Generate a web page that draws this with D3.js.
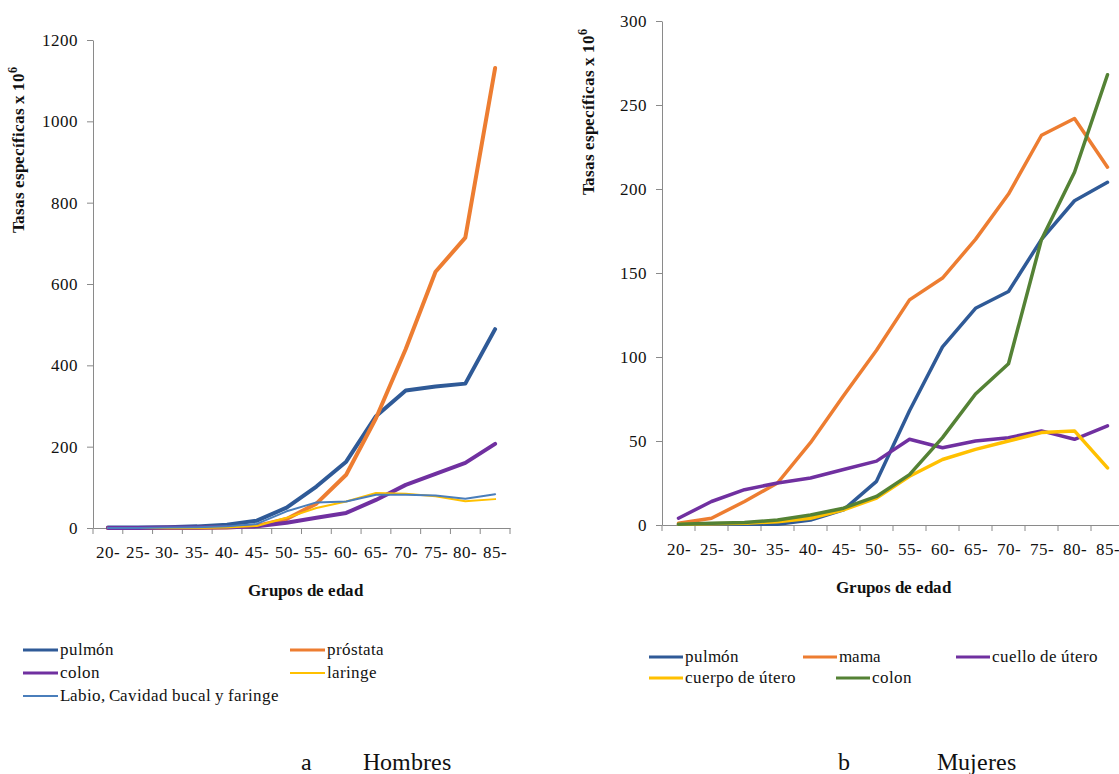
<!DOCTYPE html>
<html><head><meta charset="utf-8">
<script src="https://cdn.jsdelivr.net/npm/d3@7"></script>
<style>
@font-face{font-family:"RefSerif";font-weight:400;
  src:local("Liberation Serif"),local("LiberationSerif"),local("LiberationSerif-Regular"),local("Liberation Serif Regular"),local("DejaVu Serif"),local("DejaVuSerif"),local("Noto Serif"),local("NotoSerif-Regular");}
@font-face{font-family:"RefSerif";font-weight:700;
  src:local("Liberation Serif Bold"),local("LiberationSerif-Bold"),local("DejaVu Serif Bold"),local("DejaVuSerif-Bold"),local("Noto Serif Bold"),local("NotoSerif-Bold");}
body{margin:0;background:#fff;}
svg text{font-family:"RefSerif","Liberation Serif","DejaVu Serif",serif;}
</style></head>
<body>
<svg id="c" width="1119" height="774"></svg>
<script>
// ---------- data ----------
const ageGroups = ["20-","25-","30-","35-","40-","45-","50-","55-","60-","65-","70-","75-","80-","85-"];

// Hombres
const menPulmon   = [1,1,2,4,8,18,50,102,163,275,338,348,355,489];
const menProstata = [0,0,0,0,1,5,22,60,131,270,440,630,714,1131];
const menColon    = [0,0,1,1,2,4,13,25,37,69,106,133,160,207];
const menLaringe  = [0,0,0,0,1,5,25,49,65,86,84,78,66,71];
const menLabio    = [0,0,1,2,4,10,41,63,65,82,82,80,72,83];
const menTicks    = [0,200,400,600,800,1000,1200];

// Mujeres
const womPulmon  = [0.5,0.5,0.5,0.5,3,9,26,68,106,129,139,170,193,204];
const womMama    = [1,4,14,25,49,77,104,134,147,170,197,232,242,213];
const womCuello  = [4,14,21,25,28,33,38,51,46,50,52,56,51,59];
const womCuerpo  = [0.5,0.8,1,2,4,9,16,29,39,45,50,55,56,34];
const womColon   = [0.5,1,1.5,3,6,10,17,30,52,78,96,170,210,268];
const womTicks   = [0,50,100,150,200,250,300];

const FONT = '"RefSerif","Liberation Serif","DejaVu Serif",serif';
const C = {blue:"#2f5a97", orange:"#ed7d31", purple:"#7030a0", yellow:"#ffc000", green:"#548235", steel:"#4a7ebb"};

const menSeries = [
  {name:"pulmón", values:menPulmon, color:C.blue, w:4},
  {name:"próstata", values:menProstata, color:C.orange, w:4},
  {name:"colon", values:menColon, color:C.purple, w:4},
  {name:"laringe", values:menLaringe, color:C.yellow, w:2},
  {name:"Labio, Cavidad bucal y faringe", values:menLabio, color:C.steel, w:2}
];
const womSeries = [
  {name:"pulmón", values:womPulmon, color:C.blue, w:3.5},
  {name:"mama", values:womMama, color:C.orange, w:3.5},
  {name:"cuello de útero", values:womCuello, color:C.purple, w:3.5},
  {name:"cuerpo de útero", values:womCuerpo, color:C.yellow, w:3.5},
  {name:"colon", values:womColon, color:C.green, w:3.5}
];

const svg = d3.select("#c");
svg.append("rect").attr("width",1119).attr("height",774).attr("fill","#fff");

function panel(cfg){
  const g = svg.append("g").attr("font-family",FONT);
  const x = d3.scaleBand().domain(ageGroups).range([cfg.x0, cfg.x1]);
  const y = d3.scaleLinear().domain([0, cfg.ymax]).range([cfg.y0, cfg.y1]);
  const cx = d => x(d) + x.bandwidth()/2;

  const ya = g.append("g").attr("transform",`translate(${cfg.x0},0)`)
    .call(d3.axisLeft(y).tickValues(cfg.ticks).tickFormat(d3.format("d")).tickSize(6).tickSizeOuter(0).tickPadding(9));
  ya.attr("font-family",FONT);
  ya.select(".domain").attr("stroke","#8a8a8a");
  ya.selectAll(".tick line").attr("stroke","#8a8a8a");
  ya.selectAll(".tick text").attr("font-size",cfg.fs).attr("fill","#111");

  const xa = g.append("g").attr("transform",`translate(0,${cfg.y0})`)
    .call(d3.axisBottom(x).tickSize(0).tickPadding(cfg.xpad));
  xa.attr("font-family",FONT);
  xa.select(".domain").attr("stroke","#8a8a8a");
  xa.selectAll(".tick text").attr("font-size",cfg.fs).attr("fill","#111");
  const bounds = ageGroups.map(d => x(d)).concat([x(ageGroups[ageGroups.length-1]) + x.bandwidth()]);
  xa.selectAll("line.bt").data(bounds).enter().append("line")
    .attr("x1",d=>d).attr("x2",d=>d).attr("y1",0).attr("y2",6).attr("stroke","#8a8a8a");

  const line = d3.line().x((v,i)=>cx(ageGroups[i])).y(v=>y(v));
  cfg.series.forEach(s=>{
    g.append("path").attr("d", line(s.values)).attr("fill","none")
      .attr("stroke", s.color).attr("stroke-width", s.w)
      .attr("stroke-linejoin","round").attr("stroke-linecap","round");
  });

  const yt = g.append("text")
    .attr("transform",`translate(${cfg.ytX},${cfg.ytY}) rotate(-90)`)
    .attr("text-anchor","middle").attr("font-size",17).attr("font-weight","bold").attr("fill","#111");
  yt.append("tspan").text("Tasas específicas x 10");
  yt.append("tspan").attr("dy",-7).attr("font-size",12).text("6");

  g.append("text").attr("x",cfg.xtX).attr("y",cfg.xtY).attr("text-anchor","middle")
    .attr("font-size",17).attr("font-weight","bold").attr("fill","#111").text("Grupos de edad");

  cfg.legend.forEach((p,i)=>{
    const s = cfg.series[i];
    g.append("line").attr("x1",p[0]).attr("x2",p[0]+cfg.legLen).attr("y1",p[1]).attr("y2",p[1])
      .attr("stroke",s.color).attr("stroke-width", s.w>=3 ? 3 : 2);
    g.append("text").attr("x",p[0]+cfg.legLen+2).attr("y",p[1]+5).attr("font-size",17).attr("fill","#111").text(s.name);
  });

  g.append("text").attr("x",cfg.capX).attr("y",770).attr("text-anchor","middle").attr("font-size",24).attr("fill","#111").text(cfg.capL);
  g.append("text").attr("x",cfg.capX2).attr("y",770).attr("text-anchor","middle").attr("font-size",24).attr("fill","#111").text(cfg.capR);
}

panel({
  x0:93, x1:510, y0:528, y1:40, ymax:1200, ticks:menTicks, fs:17, xpad:18,
  series:menSeries, ytX:24, ytY:150, xtX:305, xtY:596,
  legLen:35, legend:[[23,650],[290,650],[23,673],[290,673],[23,696]],
  capX:306, capR:"Hombres", capL:"a", capX2:407
});
panel({
  x0:662, x1:1124, y0:525, y1:21, ymax:300, ticks:womTicks, fs:17, xpad:18,
  series:womSeries, ytX:594, ytY:112, xtX:893, xtY:593,
  legLen:34, legend:[[649,657],[803,657],[956,657],[649,678],[836,678]],
  capX:844, capR:"Mujeres", capL:"b", capX2:976
});
</script>
</body></html>
